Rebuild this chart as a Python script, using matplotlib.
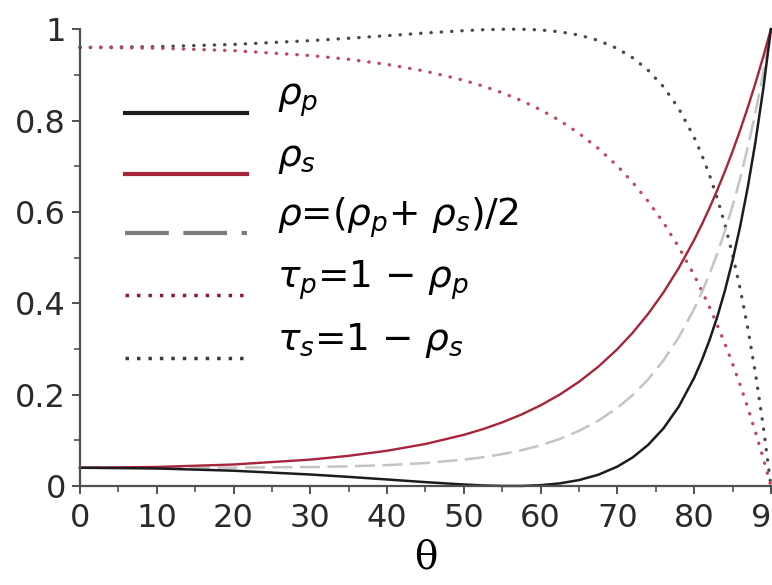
import numpy as np
import matplotlib
matplotlib.use("Agg")
import matplotlib.pyplot as plt
from matplotlib.lines import Line2D
from matplotlib.legend_handler import HandlerLine2D

plt.rcParams["mathtext.fontset"] = "dejavusans"
plt.rcParams["font.family"] = "DejaVu Sans"

# Values (angle of incidence in degrees)
theta = [0, 10, 20, 30, 35, 40, 45, 50, 52.5, 55, 57.5, 60, 62.5, 65, 67.5,
         70, 72, 74, 76, 78, 80, 81, 82, 83, 84, 85, 86, 87, 88, 89, 90]
rho_p = [0.040, 0.0384, 0.0335, 0.0252, 0.0200, 0.0143, 0.0085, 0.0033,
         0.0013, 0.0002, 0.0002, 0.0018, 0.0058, 0.0130, 0.0246, 0.0425,
         0.0627, 0.0899, 0.1261, 0.1739, 0.2368, 0.2753, 0.3193, 0.3696,
         0.4273, 0.4933, 0.5688, 0.6555, 0.7548, 0.8689, 1.0]
rho_s = [0.040, 0.0417, 0.0471, 0.0578, 0.0661, 0.0772, 0.0920, 0.1120,
         0.1246, 0.1393, 0.1564, 0.1766, 0.2002, 0.2281, 0.2609, 0.2996,
         0.3356, 0.3767, 0.4236, 0.4773, 0.5386, 0.5724, 0.6086, 0.6472,
         0.6884, 0.7323, 0.7793, 0.8293, 0.8826, 0.9395, 1.0]
rho_mean = [0.040, 0.0400, 0.0403, 0.0415, 0.0431, 0.0458, 0.0503, 0.0577,
            0.0630, 0.0698, 0.0783, 0.0892, 0.1030, 0.1206, 0.1428, 0.1711,
            0.1992, 0.2333, 0.2749, 0.3256, 0.3877, 0.4238, 0.4640, 0.5084,
            0.5579, 0.6128, 0.6741, 0.7424, 0.8187, 0.9042, 1.0]
# dotted curves as drawn (red one falls to zero, dark one peaks at 1)
tau_red = [0.960, 0.9583, 0.9529, 0.9422, 0.9339, 0.9228, 0.9080, 0.8880,
           0.8754, 0.8607, 0.8436, 0.8234, 0.7998, 0.7719, 0.7391, 0.7004,
           0.6644, 0.6233, 0.5764, 0.5227, 0.4614, 0.4276, 0.3914, 0.3528,
           0.3116, 0.2677, 0.2207, 0.1707, 0.1174, 0.0605, 0.0]
tau_dark = [0.960, 0.9616, 0.9665, 0.9748, 0.9800, 0.9857, 0.9915, 0.9967,
            0.9987, 0.9998, 0.9998, 0.9982, 0.9942, 0.9870, 0.9754, 0.9575,
            0.9373, 0.9101, 0.8739, 0.8261, 0.7632, 0.7247, 0.6807, 0.6304,
            0.5727, 0.5067, 0.4312, 0.3445, 0.2452, 0.1311, 0.0]

labels = [r"$\rho_p$", r"$\rho_s$", r"$\rho$=($\rho_p$+ $\rho_s$)/2",
          r"$\tau_p$=1 $-$ $\rho_p$", r"$\tau_s$=1 $-$ $\rho_s$"]
xticks = [0, 10, 20, 30, 40, 50, 60, 70, 80, 90]
yticks = [0, 0.2, 0.4, 0.6, 0.8, 1]
ytick_labels = ["0", "0.2", "0.4", "0.6", "0.8", "1"]

RED = "#a8243a"
DOT_RED = "#c0485c"
DARK = "#1c1c1c"
DOT_DARK = "#4a4a4a"


class ShiftedHandler(HandlerLine2D):
    # handles sit a bit lower than the label text in the original
    def create_artists(self, legend, orig_handle, xdescent, ydescent,
                       width, height, fontsize, trans):
        return super().create_artists(legend, orig_handle, xdescent,
                                      ydescent + 30, width, height,
                                      fontsize, trans)


fig = plt.figure(figsize=(7.72, 5.85), dpi=100)
ax = fig.add_axes([0.1036, 0.1692, 0.895, 0.781])

ax.plot(theta, tau_dark, color=DOT_DARK, lw=2.4, ls=(0, (0.1, 3.0)),
        dash_capstyle="round", clip_on=False)
ax.plot(theta, tau_red, color=DOT_RED, lw=2.4, ls=(0, (0.1, 3.0)),
        dash_capstyle="round", clip_on=False)
ax.plot(theta, rho_mean, color="#c4c4c4", lw=1.8, ls=(0, (8, 3)),
        clip_on=False)
ax.plot(theta, rho_s, color=RED, lw=1.7, clip_on=False)
ax.plot(theta, rho_p, color=DARK, lw=1.8, clip_on=False)

handles = [
    Line2D([], [], color=DARK, lw=3.0),
    Line2D([], [], color=RED, lw=3.0),
    Line2D([], [], color="#7a7a7a", lw=3.0, ls=(0, (10.5, 3.5))),
    Line2D([], [], color="#8a1a30", lw=2.5, ls=(0, (1, 2.3))),
    Line2D([], [], color="#3a3a3a", lw=2.5, ls=(0, (1, 2.3))),
]
leg = ax.legend(handles, labels, loc="upper left",
                bbox_to_anchor=(0.065, 0.895), frameon=False, fontsize=27,
                handlelength=3.25, handletextpad=0.8, labelspacing=0.5,
                borderpad=0, borderaxespad=0,
                handler_map={Line2D: ShiftedHandler()})

ax.set_xlim(0, 90)
ax.set_ylim(0, 1)
ax.set_xticks(xticks)
ax.set_xticks(np.arange(5, 90, 10), minor=True)
ax.set_yticks(yticks)
ax.set_yticklabels(ytick_labels)
ax.set_yticks(np.arange(0.1, 1.0, 0.2), minor=True)

for side in ("top", "right"):
    ax.spines[side].set_visible(False)
for side in ("left", "bottom"):
    ax.spines[side].set_color("#505050")
    ax.spines[side].set_linewidth(1.6)

ax.tick_params(which="major", length=6, width=1.4, color="#505050",
               labelsize=23, labelcolor="#2a2a2a", direction="out")
ax.tick_params(which="minor", length=4, width=1.2, color="#505050",
               direction="out")
ax.tick_params(axis="x", which="major", pad=6)
ax.tick_params(axis="y", which="major", pad=4)

ax.set_xlabel("θ", fontsize=28, family="DejaVu Serif", labelpad=4)

fig.savefig("out.png", dpi=100)
